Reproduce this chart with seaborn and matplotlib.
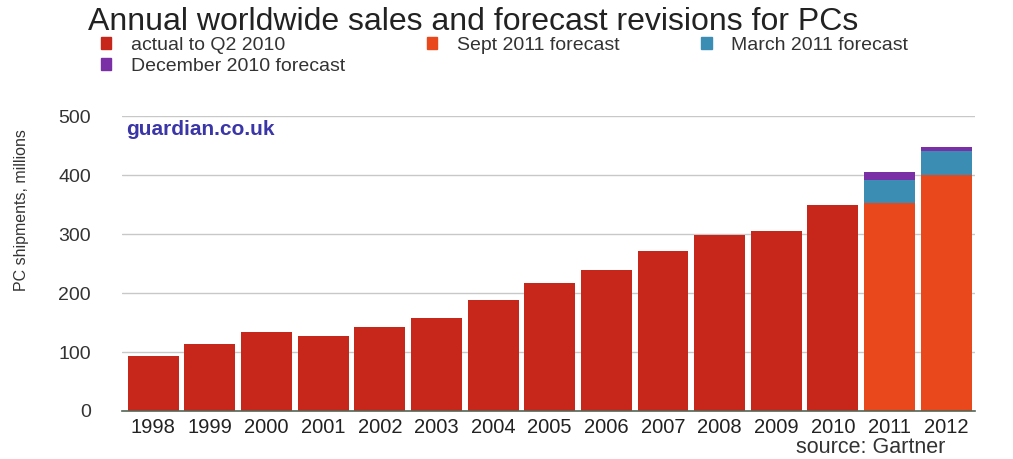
import pandas as pd
import seaborn as sns
import matplotlib.pyplot as plt
from matplotlib.patches import Patch

# Values (millions of PCs shipped)
years = [str(y) for y in range(1998, 2013)]
actual_years = years[:13]
actual = [93, 113, 134, 127, 142, 158, 188, 217, 239, 271, 298, 305, 349]
forecast_years = ["2011", "2012"]
sept_2011 = [352, 400]
march_2011 = [391, 441]
dec_2010 = [406, 447]

c_actual = "#c7271b"
c_sept = "#e8481c"
c_march = "#3b8db4"
c_dec = "#7a2fa6"

sns.set_theme(style="white")
plt.rcParams["font.family"] = ["Liberation Sans", "DejaVu Sans"]

fig = plt.figure(figsize=(10.13, 4.59), dpi=100)
ax = fig.add_axes([0.12, 0.1046, 0.842, 0.6424])

# later forecasts sit on top of older ones, so draw the tallest first
bar_kw = dict(order=years, width=0.9, saturation=1, errorbar=None, linewidth=0, ax=ax)
sns.barplot(x=forecast_years, y=dec_2010, color=c_dec, **bar_kw)
sns.barplot(x=forecast_years, y=march_2011, color=c_march, **bar_kw)
sns.barplot(x=forecast_years, y=sept_2011, color=c_sept, **bar_kw)
sns.barplot(x=actual_years, y=actual, color=c_actual, **bar_kw)

ax.set_ylim(0, 500)
ax.set_xlim(-0.56, 14.5)
ax.set_yticks(range(0, 501, 100))
ax.yaxis.grid(True, color="#c8c8c8", linewidth=1)
ax.set_axisbelow(True)
for s in ["top", "right", "left"]:
    ax.spines[s].set_visible(False)
ax.spines["bottom"].set_color("#556655")
ax.spines["bottom"].set_linewidth(1.2)
ax.tick_params(axis="x", length=0, pad=5, labelsize=14.5, colors="#222222")
ax.tick_params(axis="y", length=0, pad=22, labelsize=14, colors="#333333")
ax.set_xlabel("")
ax.set_ylabel("PC shipments, millions", fontsize=11.5, color="#333333")
ax.yaxis.set_label_coords(-0.108, 0.68)

ax.text(0.005, 0.955, "guardian.co.uk", transform=ax.transAxes, fontsize=15,
        fontweight="bold", color="#3b36a8", va="center")

fig.text(0.087, 0.952, "Annual worldwide sales and forecast revisions for PCs",
         fontsize=23, color="#222222", va="center")
fig.text(0.933, 0.026, "source: Gartner", fontsize=15.5, color="#333333",
         ha="right", va="center")

handles = [Patch(color=c_actual, label="actual to Q2 2010"),
           Patch(color=c_dec, label="December 2010 forecast"),
           Patch(color=c_sept, label="Sept 2011 forecast"),
           Patch(color=c_march, label="March 2011 forecast")]
fig.legend(handles=handles, ncol=3, loc="upper left", bbox_to_anchor=(0.082, 0.958),
           frameon=False, fontsize=14, handlelength=0.55, handleheight=0.55,
           handletextpad=1.0, columnspacing=4.2, labelspacing=0.2,
           labelcolor="#333333")

fig.savefig("out.png", dpi=100, facecolor="white")
